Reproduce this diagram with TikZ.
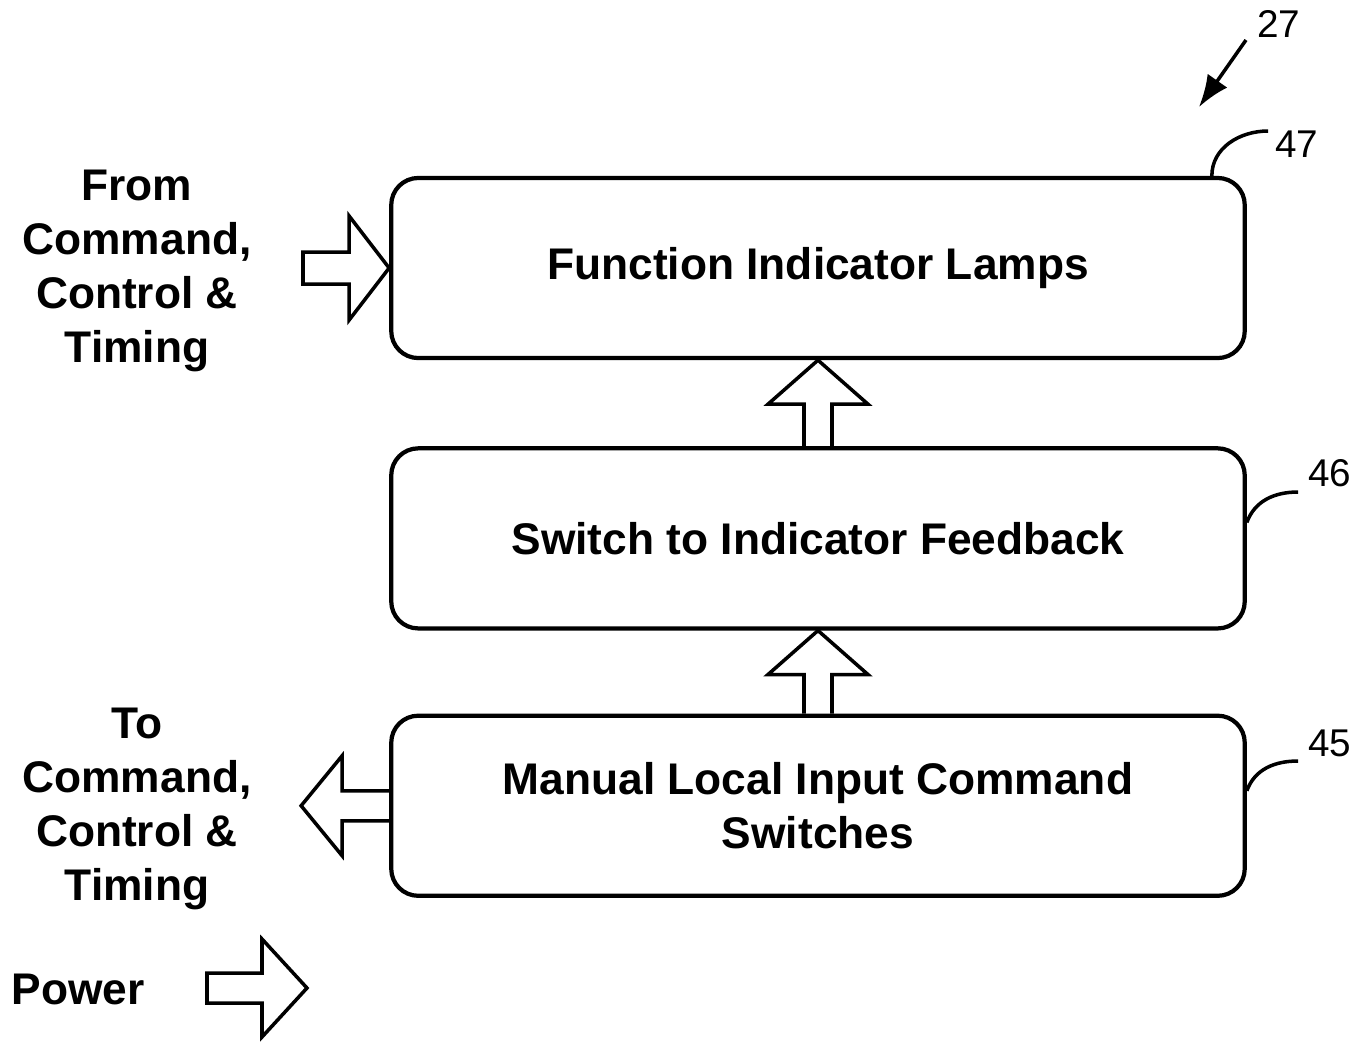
\documentclass[tikz,border=0pt]{standalone}
\usepackage{fontspec}
\setmainfont{Liberation Sans}
\usetikzlibrary{positioning,calc,arrows.meta}

\begin{document}
\begin{tikzpicture}[x=0.01cm,y=-0.01cm,
  block/.style={draw, line width=1.2pt, rounded corners=0.27cm, minimum width=8.53cm, minimum height=1.80cm, align=center, font=\fontsize{12.6}{15.4}\selectfont\bfseries},
  sidetext/.style={align=center, font=\fontsize{12.6}{15.4}\selectfont\bfseries},
  refnum/.style={font=\fontsize{11}{13}\selectfont},
  fatarrow/.style={draw, line width=1pt, line join=miter},
  leader/.style={line width=1pt}]

\useasboundingbox (0,0) rectangle (1365,1047);

% the three blocks
\node[block] (lamps) at (818,268) {Function Indicator Lamps};
\node[block, below=0.86cm of lamps] (feedback) {Switch to Indicator Feedback};
\node[block, below=0.83cm of feedback] (switches) {Manual Local Input Command\\Switches};

% side texts
\node[sidetext] (fromtxt) at (137,271) {From\\Command,\\Control \&\\Timing};
\node[sidetext] (totxt) at (137,809) {To\\Command,\\Control \&\\Timing};
\node[sidetext] (power) at (78,989) {Power};

% reference numbers
\node[refnum] (n27) at (1279,24) {27};
\node[refnum] (n47) at (1297,144) {47};
\node[refnum] (n46) at (1330,473) {46};
\node[refnum] (n45) at (1330,743) {45};

\coordinate (fromtail) at (303,268);
\coordinate (totip) at ($(switches.west)+(-88,0)$);
\coordinate (powtail) at (207,988);
\coordinate (powtip) at (307,988);
\coordinate (n27tail) at (1246,40);
\coordinate (n27tip) at (1199,107);

% from command, control & timing
\draw[fatarrow] ($(fromtail)+(0,-16)$) -- ($(lamps.west)+(-40,-16)$) -- ($(lamps.west)+(-40,-52)$) -- (lamps.west) -- ($(lamps.west)+(-40,52)$) -- ($(lamps.west)+(-40,16)$) -- ($(fromtail)+(0,16)$) -- cycle;

% feedback up to lamps
\draw[fatarrow] ($(feedback.north)+(-14,0)$) -- ($(lamps.south)+(-14,44)$) -- ($(lamps.south)+(-50,44)$) -- (lamps.south) -- ($(lamps.south)+(50,44)$) -- ($(lamps.south)+(14,44)$) -- ($(feedback.north)+(14,0)$);

% switches up to feedback
\draw[fatarrow] ($(switches.north)+(-14,0)$) -- ($(feedback.south)+(-14,44)$) -- ($(feedback.south)+(-50,44)$) -- (feedback.south) -- ($(feedback.south)+(50,44)$) -- ($(feedback.south)+(14,44)$) -- ($(switches.north)+(14,0)$);

% to command, control & timing
\draw[fatarrow] ($(switches.west)+(0,-15)$) -- ($(totip)+(41,-15)$) -- ($(totip)+(41,-50)$) -- (totip) -- ($(totip)+(41,50)$) -- ($(totip)+(41,15)$) -- ($(switches.west)+(0,15)$);

% power
\draw[fatarrow] ($(powtail)+(0,-15)$) -- ($(powtip)+(-45,-15)$) -- ($(powtip)+(-45,-49)$) -- (powtip) -- ($(powtip)+(-45,49)$) -- ($(powtip)+(-45,15)$) -- ($(powtail)+(0,15)$) -- cycle;

% leaders
\draw[line width=1pt, -{Latex[length=0.32cm,width=0.24cm]}] (n27tail) -- (n27tip);
\draw[leader] ($(n47.west)+(5,-13)$) to[out=180,in=90] ($(lamps.north east)+(-35,0)$);
\draw[leader] ($(n46.west)+(2,19)$) to[out=180,in=70] ($(feedback.east)+(0,-16)$);
\draw[leader] ($(n45.west)+(2,18)$) to[out=180,in=70] ($(switches.east)+(0,-15)$);

\end{tikzpicture}
\end{document}
